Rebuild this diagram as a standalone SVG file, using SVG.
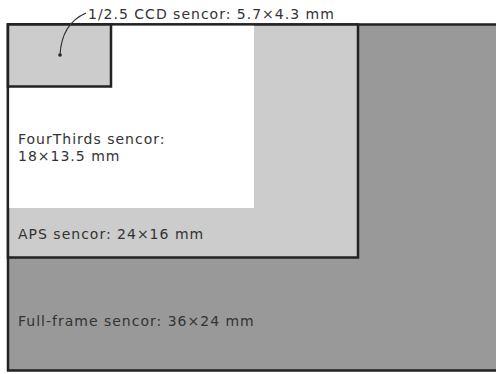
<svg xmlns="http://www.w3.org/2000/svg" width="496" height="374" viewBox="0 0 496 374">
  <style>
    .lbl { font-family: "DejaVu Sans", Verdana, sans-serif; font-size: 14px; letter-spacing: 1px; fill: #333; }
    .box { stroke: #222; stroke-width: 2.5; }
  </style>
  <rect width="496" height="374" fill="#fff"/>
  <g id="full-frame">
    <rect class="box" x="8" y="24.5" width="500" height="346" fill="#999"/>
    <text class="lbl" x="18" y="326">Full-frame sencor: 36×24 mm</text>
  </g>
  <g id="aps">
    <rect class="box" x="8" y="24.5" width="350" height="233" fill="#ccc"/>
    <text class="lbl" x="18" y="239">APS sencor: 24×16 mm</text>
  </g>
  <g id="fourthirds">
    <rect x="9.25" y="25.75" width="244.75" height="182.25" fill="#fff"/>
    <text class="lbl" x="18" y="144">FourThirds sencor:</text>
    <text class="lbl" x="18" y="161">18×13.5 mm</text>
  </g>
  <g id="ccd">
    <rect class="box" x="8" y="24.5" width="103" height="62" fill="#ccc"/>
    <circle cx="60" cy="55" r="1.8" fill="#222"/>
  </g>
  <g id="connectors">
    <path d="M60,55 C61,35 70,20 86,13" fill="none" stroke="#333" stroke-width="1.2"/>
  </g>
  <g id="ccd-label">
    <text class="lbl" x="88" y="19">1/2.5 CCD sencor: 5.7×4.3 mm</text>
  </g>
</svg>
